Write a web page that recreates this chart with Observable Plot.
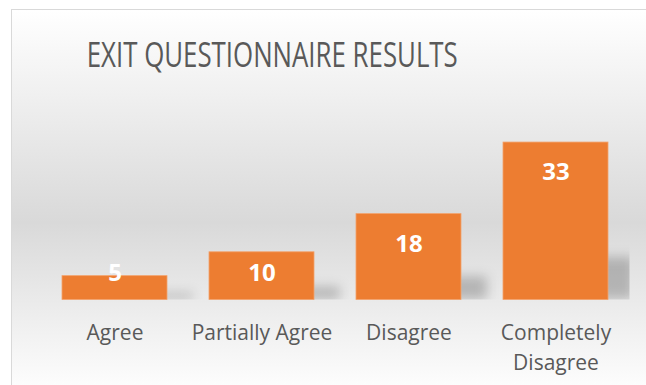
<!DOCTYPE html>
<html>
<head>
<meta charset="utf-8">
<script src="https://cdn.jsdelivr.net/npm/d3@7"></script>
<script src="https://cdn.jsdelivr.net/npm/@observablehq/plot@0.6"></script>
<style>
  html, body { margin: 0; padding: 0; background: #fff; }
  #wrap { position: relative; width: 646px; height: 385px; overflow: hidden; }
  #frame {
    position: absolute; left: 11px; top: 9px; width: 650px; height: 386px;
    border-left: 1.5px solid #d9d9d9; border-top: 1.5px solid #d9d9d9;
    background: linear-gradient(to bottom, #ffffff 0%, #d9d9d9 55%, #ffffff 100%);
  }
  #chart { position: absolute; left: 0; top: 0; }
</style>
</head>
<body>
<div id="wrap"><div id="frame"></div><div id="chart"></div></div>
<script>
const title = "EXIT QUESTIONNAIRE RESULTS";
const categories = ["Agree", "Partially Agree", "Disagree", "Completely Disagree"];
const values = [5, 10, 18, 33];
const tickLabels = ["Agree", "Partially Agree", "Disagree", "Completely\nDisagree"];

const data = categories.map((c, i) => ({category: c, value: values[i]}));

const chart = Plot.plot({
  width: 646,
  height: 385,
  marginTop: 132.5,
  marginBottom: 85.5,
  marginLeft: 41,
  marginRight: 16.5,
  style: {background: "transparent", fontFamily: "'Open Sans', sans-serif", overflow: "visible"},
  x: {domain: categories, paddingInner: 0.286, paddingOuter: 0.143, label: null},
  y: {domain: [0, 35], axis: null},
  marks: [
    Plot.barY(data, {
      x: "category", y: d => d.value * 0.27,
      insetLeft: 60, insetRight: -26,
      fill: "#000", fillOpacity: 0.22, clip: true
    }),
    Plot.barY(data, {x: "category", y: "value", fill: "#ED7D31", stroke: "#F3A26C", strokeWidth: 0.8}),
    Plot.text(data, {
      x: "category", y: d => Math.max(d.value - 6.3, 5.5),
      text: d => String(d.value), fill: "white", fontSize: 24, fontWeight: "bold",
      lineAnchor: "middle"
    }),
    Plot.axisX({
      tickSize: 0, tickPadding: 18.5, fontSize: 21, fill: "#595959", lineHeight: 1.43,
      label: null, tickFormat: d => tickLabels[categories.indexOf(d)]
    }),
    Plot.text([title], {
      frameAnchor: "top", dx: -63.5, dy: -77, fontSize: 35, fontWeight: 400,
      fill: "#595959", lineAnchor: "middle"
    })
  ]
});

const ns = "http://www.w3.org/2000/svg";
const defs = document.createElementNS(ns, "defs");
defs.innerHTML = '<filter id="shblur" x="-50%" y="-50%" width="200%" height="200%"><feGaussianBlur stdDeviation="6"/></filter>';
chart.prepend(defs);
const barGroups = chart.querySelectorAll('g[aria-label="bar"]');
if (barGroups.length) barGroups[0].setAttribute("filter", "url(#shblur)");
const textGroups = chart.querySelectorAll('g[aria-label="text"]');
const tt = textGroups.length ? textGroups[textGroups.length - 1].querySelector("text") : null;
if (tt) { tt.setAttribute("textLength", 371); tt.setAttribute("lengthAdjust", "spacingAndGlyphs"); }

document.getElementById("chart").appendChild(chart);
</script>
</body>
</html>
